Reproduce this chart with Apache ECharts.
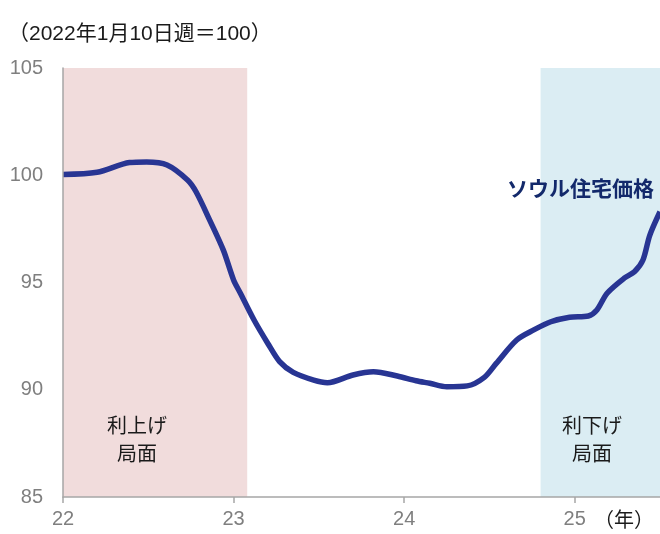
<!DOCTYPE html>
<html>
<head>
<meta charset="utf-8">
<script src="https://cdn.jsdelivr.net/npm/echarts@6/dist/echarts.min.js"></script>
<style>
    html, body { margin: 0; padding: 0; background: #fff; }
    #chart { width: 660px; height: 534px; }
</style>
</head>
<body>
<div id="chart"></div>
<script>
    // year position (22 = 2022/1) and index value (2022/1/10 week = 100)
    var years = [22.00, 22.20, 22.39, 22.49, 22.61, 22.73, 22.78, 22.86, 22.94, 23.00, 23.04, 23.12, 23.20, 23.27, 23.35, 23.47, 23.55,
        23.70, 23.82, 23.96, 24.07, 24.15, 24.25, 24.37, 24.47, 24.54, 24.66, 24.76, 24.86, 24.97, 25.08, 25.13, 25.19, 25.29, 25.35, 25.40, 25.44, 25.50];
    var seoul = [100.04, 100.14, 100.59, 100.62, 100.48, 99.78, 99.23, 97.91, 96.51, 95.12, 94.50, 93.25, 92.17, 91.31, 90.81, 90.45, 90.33,
        90.69, 90.84, 90.64, 90.42, 90.30, 90.14, 90.18, 90.58, 91.23, 92.32, 92.79, 93.17, 93.38, 93.44, 93.72, 94.50, 95.20, 95.50, 96.05, 97.20, 98.30];
    var hikeRange = [22, 23.08];
    var cutRange = [24.8, 25.5];
    var xTicks = [22, 23, 24, 25];

    var font = '"Liberation Sans", "Noto Sans CJK JP", sans-serif';

    var data = years.map(function (y, i) { return [y, seoul[i]]; });

    function note(x, y, txt) {
        return {type: 'text', x: x, y: y, z: 100, style: {text: txt, fill: '#1a1a1a', font: '20px ' + font, align: 'center', lineHeight: 28}};
    }

    var option = {
        animation: false,
        grid: {left: 63, right: 0, top: 68, bottom: 37},
        xAxis: {
            type: 'value',
            min: 22, max: 25.5, z: 10,
            axisLine: {lineStyle: {color: '#a6a6a6', width: 1.5}},
            axisTick: {show: true, length: 6, customValues: xTicks, lineStyle: {color: '#a6a6a6', width: 1.5}},
            axisLabel: {
                color: '#7f7f7f', fontSize: 20, fontFamily: font, margin: 12,
                customValues: xTicks
            },
            splitLine: {show: false}
        },
        yAxis: {
            type: 'value',
            min: 85, max: 105, interval: 5, z: 10,
            axisLine: {show: true, lineStyle: {color: '#a6a6a6', width: 1.5}},
            axisTick: {show: false},
            axisLabel: {color: '#7f7f7f', fontSize: 20, fontFamily: font, margin: 20},
            splitLine: {show: false}
        },
        series: [{
            name: 'ソウル住宅価格',
            type: 'line',
            smooth: 0.3,
            showSymbol: false,
            data: data,
            lineStyle: {color: '#283593', width: 5.5},
            z: 3,
            markArea: {
                silent: true,
                data: [
                    [{xAxis: hikeRange[0], itemStyle: {color: '#f1dcdc'}}, {xAxis: hikeRange[1]}],
                    [{xAxis: cutRange[0], itemStyle: {color: '#dbedf3'}}, {xAxis: cutRange[1]}]
                ]
            }
        }],
        graphic: [
            {type: 'text', left: 8, top: 24, z: 100, style: {text: '（2022年1月10日週＝100）', fill: '#1a1a1a', font: '21px ' + font}},
            {type: 'text', right: 6, top: 180, z: 100, style: {text: 'ソウル住宅価格', fill: '#13296b', font: 'bold 21px ' + font}},
            note(137, 413, '利上げ\n局面'),
            note(592, 413, '利下げ\n局面'),
            {type: 'text', right: 6, top: 511, z: 100, style: {text: '（年）', fill: '#1a1a1a', font: '20px ' + font}}
        ]
    };

    var myChart = echarts.init(document.getElementById('chart'));
    myChart.setOption(option);
</script>
</body>
</html>
